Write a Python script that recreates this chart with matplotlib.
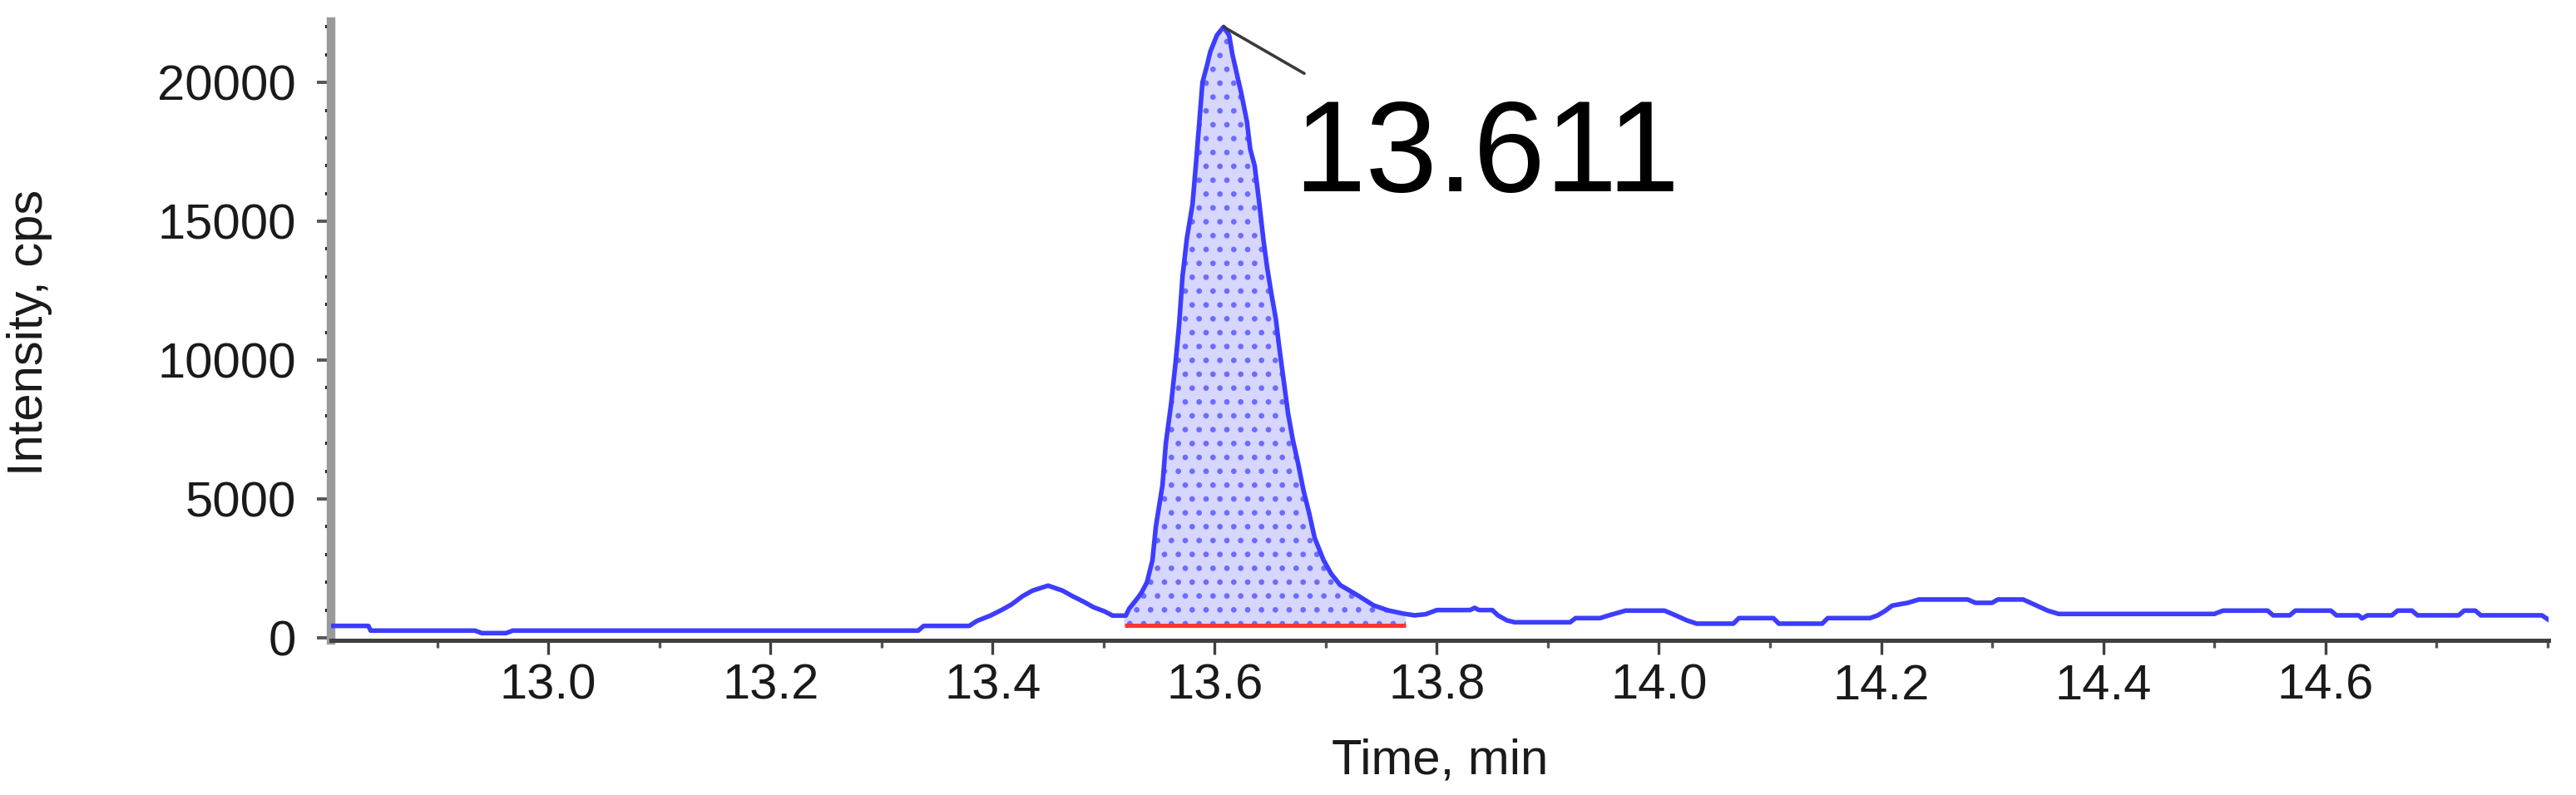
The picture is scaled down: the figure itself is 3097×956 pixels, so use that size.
import numpy as np
import matplotlib
matplotlib.use("Agg")
import matplotlib.pyplot as plt

plt.rcParams["font.family"] = ["Liberation Sans", "DejaVu Sans"]
plt.rcParams["hatch.linewidth"] = 2.4

# ---------------- data ----------------
# baseline before the small bump
t_pre = [12.804, 12.838, 12.840, 12.934, 12.940, 12.962, 12.968, 13.333, 13.338, 13.379]
i_pre = [430, 430, 260, 260, 170, 170, 260, 260, 430, 430]
# small bump near 13.45
t_bump = [13.386, 13.398, 13.408, 13.417, 13.427, 13.436, 13.450, 13.463, 13.472,
          13.482, 13.491, 13.501, 13.508, 13.520]
i_bump = [610, 800, 1000, 1200, 1500, 1700, 1880, 1700, 1500, 1300, 1100, 950, 800, 800]
# main peak, rising flank
t_rise = [13.523, 13.530, 13.534, 13.539, 13.544, 13.547, 13.553, 13.556, 13.561, 13.565,
          13.568, 13.571, 13.575, 13.580, 13.583, 13.587, 13.589, 13.593, 13.596, 13.602, 13.608]
i_rise = [1050, 1400, 1620, 2000, 2800, 4000, 5500, 7000, 8500, 10000,
          11300, 13000, 14400, 15600, 17000, 19000, 20000, 20600, 21100, 21700, 22000]
# main peak, falling flank
t_fall = [13.613, 13.616, 13.620, 13.624, 13.629, 13.632, 13.636, 13.640, 13.644, 13.647,
          13.651, 13.655, 13.658, 13.662, 13.666, 13.670, 13.675, 13.680, 13.685, 13.690,
          13.698, 13.705, 13.713, 13.730, 13.743, 13.756, 13.770, 13.780, 13.790]
i_fall = [21700, 21000, 20300, 19600, 18600, 17600, 17000, 15700, 14300, 13400,
          12400, 11500, 10500, 9300, 8100, 7200, 6300, 5300, 4500, 3600,
          2800, 2300, 1900, 1500, 1170, 990, 870, 810, 850]
# tail after the peak
t_tail = [13.800, 13.830, 13.834, 13.838, 13.850, 13.855, 13.863, 13.870, 13.920, 13.925,
          13.947, 13.955, 13.970, 14.005, 14.015, 14.025, 14.034, 14.067, 14.072, 14.103,
          14.108, 14.147, 14.152, 14.190, 14.197, 14.204, 14.210, 14.224, 14.234, 14.278,
          14.285, 14.300, 14.305, 14.328, 14.340, 14.350, 14.360, 14.500, 14.508, 14.548,
          14.553, 14.568, 14.573, 14.605, 14.610, 14.630, 14.633, 14.638, 14.660, 14.665,
          14.678, 14.683, 14.720, 14.725, 14.735, 14.740, 14.795, 14.801]
i_tail = [1000, 1000, 1080, 1000, 1000, 810, 630, 560, 560, 710,
          710, 810, 980, 980, 810, 630, 510, 510, 710, 710,
          510, 510, 710, 710, 810, 980, 1160, 1260, 1380, 1380,
          1260, 1260, 1380, 1380, 1160, 980, 860, 860, 980, 980,
          810, 810, 980, 980, 810, 810, 700, 810, 810, 980,
          980, 810, 810, 980, 980, 810, 810, 650]

peak_label = "13.611"
integration_start = 13.5185
integration_end = 13.772
integration_baseline = 460

x_major_ticks = [13.0, 13.2, 13.4, 13.6, 13.8, 14.0, 14.2, 14.4, 14.6]
x_tick_labels = ["13.0", "13.2", "13.4", "13.6", "13.8", "14.0", "14.2", "14.4", "14.6"]
x_minor_ticks = [12.9, 13.1, 13.3, 13.5, 13.7, 13.9, 14.1, 14.3, 14.5, 14.7, 14.8]
y_major_ticks = [0, 5000, 10000, 15000, 20000]
y_tick_labels = ["0", "5000", "10000", "15000", "20000"]
y_minor_ticks = list(range(0, 23000, 1000))

x_label = "Time, min"
y_label = "Intensity, cps"

# ---------------- assemble ----------------
t = np.array(t_pre + t_bump + t_rise + t_fall + t_tail)
y = np.array(i_pre + i_bump + i_rise + i_fall + i_tail, dtype=float)

W, H = 3097, 956
fig = plt.figure(figsize=(W / 100, H / 100), dpi=100)
ax_l, ax_r, ax_t, ax_b = 397.5, 3064, 26, 770
ax = fig.add_axes([ax_l / W, 1 - ax_b / H, (ax_r - ax_l) / W, (ax_b - ax_t) / H])

# integrated area
mask = (t > integration_start) & (t < integration_end)
tf = np.concatenate([[integration_start], t[mask], [integration_end]])
yf = np.concatenate([[np.interp(integration_start, t, y)], y[mask],
                     [np.interp(integration_end, t, y)]])
ax.fill_between(tf, yf, integration_baseline, facecolor="#d6d6ff", edgecolor="none",
                linewidth=0, zorder=1)
ax.fill_between(tf, yf, integration_baseline, facecolor="none", edgecolor="#6c6cff",
                linewidth=0, hatch=".", zorder=1.2)
ax.plot([integration_start, integration_end], [integration_baseline] * 2,
        color="#ff3535", lw=3.6, solid_capstyle="butt", zorder=2)

# chromatogram trace
ax.plot(t, y, color="#3d3dff", lw=4.0, solid_joinstyle="round", zorder=3)

# peak label
k = int(np.argmax(y))
apex = (t[k], y[k])
ax.annotate("", xy=apex, xytext=(97, -56), textcoords="offset pixels",
            arrowprops=dict(arrowstyle="-", color="#3a3a3a", lw=2.6,
                            shrinkA=0, shrinkB=0), zorder=4)
ax.annotate(peak_label, xy=apex, xytext=(84, -198), textcoords="offset pixels",
            fontsize=112, color="black", ha="left", va="baseline", zorder=4)

# axes styling
ax.set_xlim(12.804, 14.801)
ax.set_ylim(-90, 22190)
ax.set_xticks(x_major_ticks)
ax.set_xticklabels(x_tick_labels)
ax.set_xticks(x_minor_ticks, minor=True)
ax.set_yticks(y_major_ticks)
ax.set_yticklabels(y_tick_labels)
ax.set_yticks(y_minor_ticks, minor=True)

for s in ("top", "right"):
    ax.spines[s].set_visible(False)
ax.spines["left"].set_color("#9a9a9a")
ax.spines["left"].set_linewidth(7.5)
ax.spines["bottom"].set_color("#404040")
ax.spines["bottom"].set_linewidth(3.6)

ax.tick_params(axis="x", which="major", direction="out", length=12, width=2.4,
               color="#404040", pad=8, labelsize=43, labelcolor="#1a1a1a")
ax.tick_params(axis="x", which="minor", direction="out", length=6.5, width=2.4,
               color="#555555")
ax.tick_params(axis="y", which="major", direction="out", length=12, width=2.8,
               color="#555555", pad=18, labelsize=43, labelcolor="#1a1a1a")
ax.tick_params(axis="y", which="minor", direction="out", length=5, width=2.8,
               color="#111111")

fig.text((ax_l + ax_r) / 2 / W, 1 - 930 / H, x_label, fontsize=43, color="#1a1a1a",
         ha="center", va="baseline")
fig.text(36 / W, 1 - 400 / H, y_label, fontsize=43, color="#1a1a1a",
         ha="center", va="center", rotation=90)

fig.savefig("out.png", dpi=100)
